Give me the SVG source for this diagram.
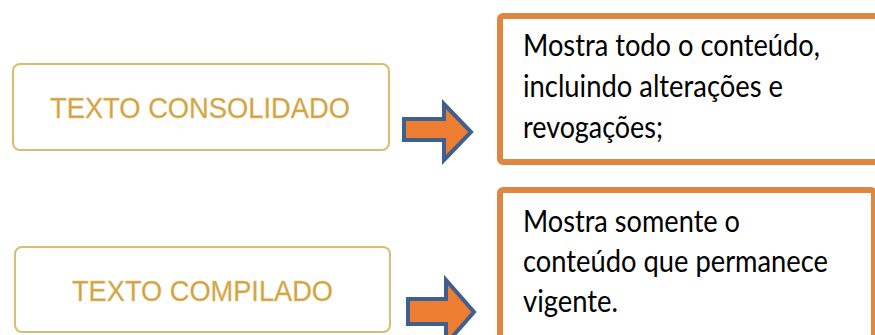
<svg xmlns="http://www.w3.org/2000/svg" width="875" height="335" viewBox="0 0 875 335">
<style>
.btn{fill:#ffffff;stroke:#dbbd72;stroke-width:2}
.btxt{font-family:"Liberation Sans",Arial,sans-serif;font-size:29px;fill:#d2a240;stroke:#e2c27a;stroke-width:0.4;text-anchor:middle}
.desc{fill:#ffffff;stroke:#df8641;stroke-width:6}
.dtxt{font-family:Lato,"Noto Sans",sans-serif;font-size:31px;fill:#000000}
.arrow{fill:#ed7d31;stroke:#3f5f8e;stroke-width:4;stroke-linejoin:miter}
</style>
<rect width="875" height="335" fill="#ffffff"/>
<g id="texto-consolidado">
<rect class="btn" x="13" y="64" width="376" height="86" rx="7"/>
<text class="btxt" x="200" y="117.5" textLength="300" lengthAdjust="spacingAndGlyphs">TEXTO CONSOLIDADO</text>
</g>
<g id="texto-compilado">
<rect class="btn" x="15" y="247" width="375" height="85" rx="7"/>
<text class="btxt" x="202.5" y="300.5" textLength="261" lengthAdjust="spacingAndGlyphs">TEXTO COMPILADO</text>
</g>
<g id="desc-consolidado">
<rect class="desc" x="500" y="16" width="420" height="146" rx="3"/>
<text class="dtxt" x="523" y="56" textLength="297" lengthAdjust="spacingAndGlyphs">Mostra todo o conteúdo,</text>
<text class="dtxt" x="523" y="97" textLength="260" lengthAdjust="spacingAndGlyphs">incluindo alterações e</text>
<text class="dtxt" x="523" y="138" textLength="140" lengthAdjust="spacingAndGlyphs">revogações;</text>
</g>
<g id="desc-compilado">
<rect class="desc" x="500" y="190" width="374" height="170" rx="3"/>
<text class="dtxt" x="523" y="232" textLength="217" lengthAdjust="spacingAndGlyphs">Mostra somente o</text>
<text class="dtxt" x="523" y="272" textLength="305" lengthAdjust="spacingAndGlyphs">conteúdo que permanece</text>
<text class="dtxt" x="523" y="312" textLength="95" lengthAdjust="spacingAndGlyphs">vigente.</text>
</g>
<g id="connectors">
<path class="arrow" d="M404,119 L444,119 L444,104 L471,132 L444,160 L444,140 L404,140 Z"/>
<path class="arrow" d="M408,299 L446,299 L446,280 L474,312 L446,344 L446,324 L408,324 Z"/>
</g>
</svg>
